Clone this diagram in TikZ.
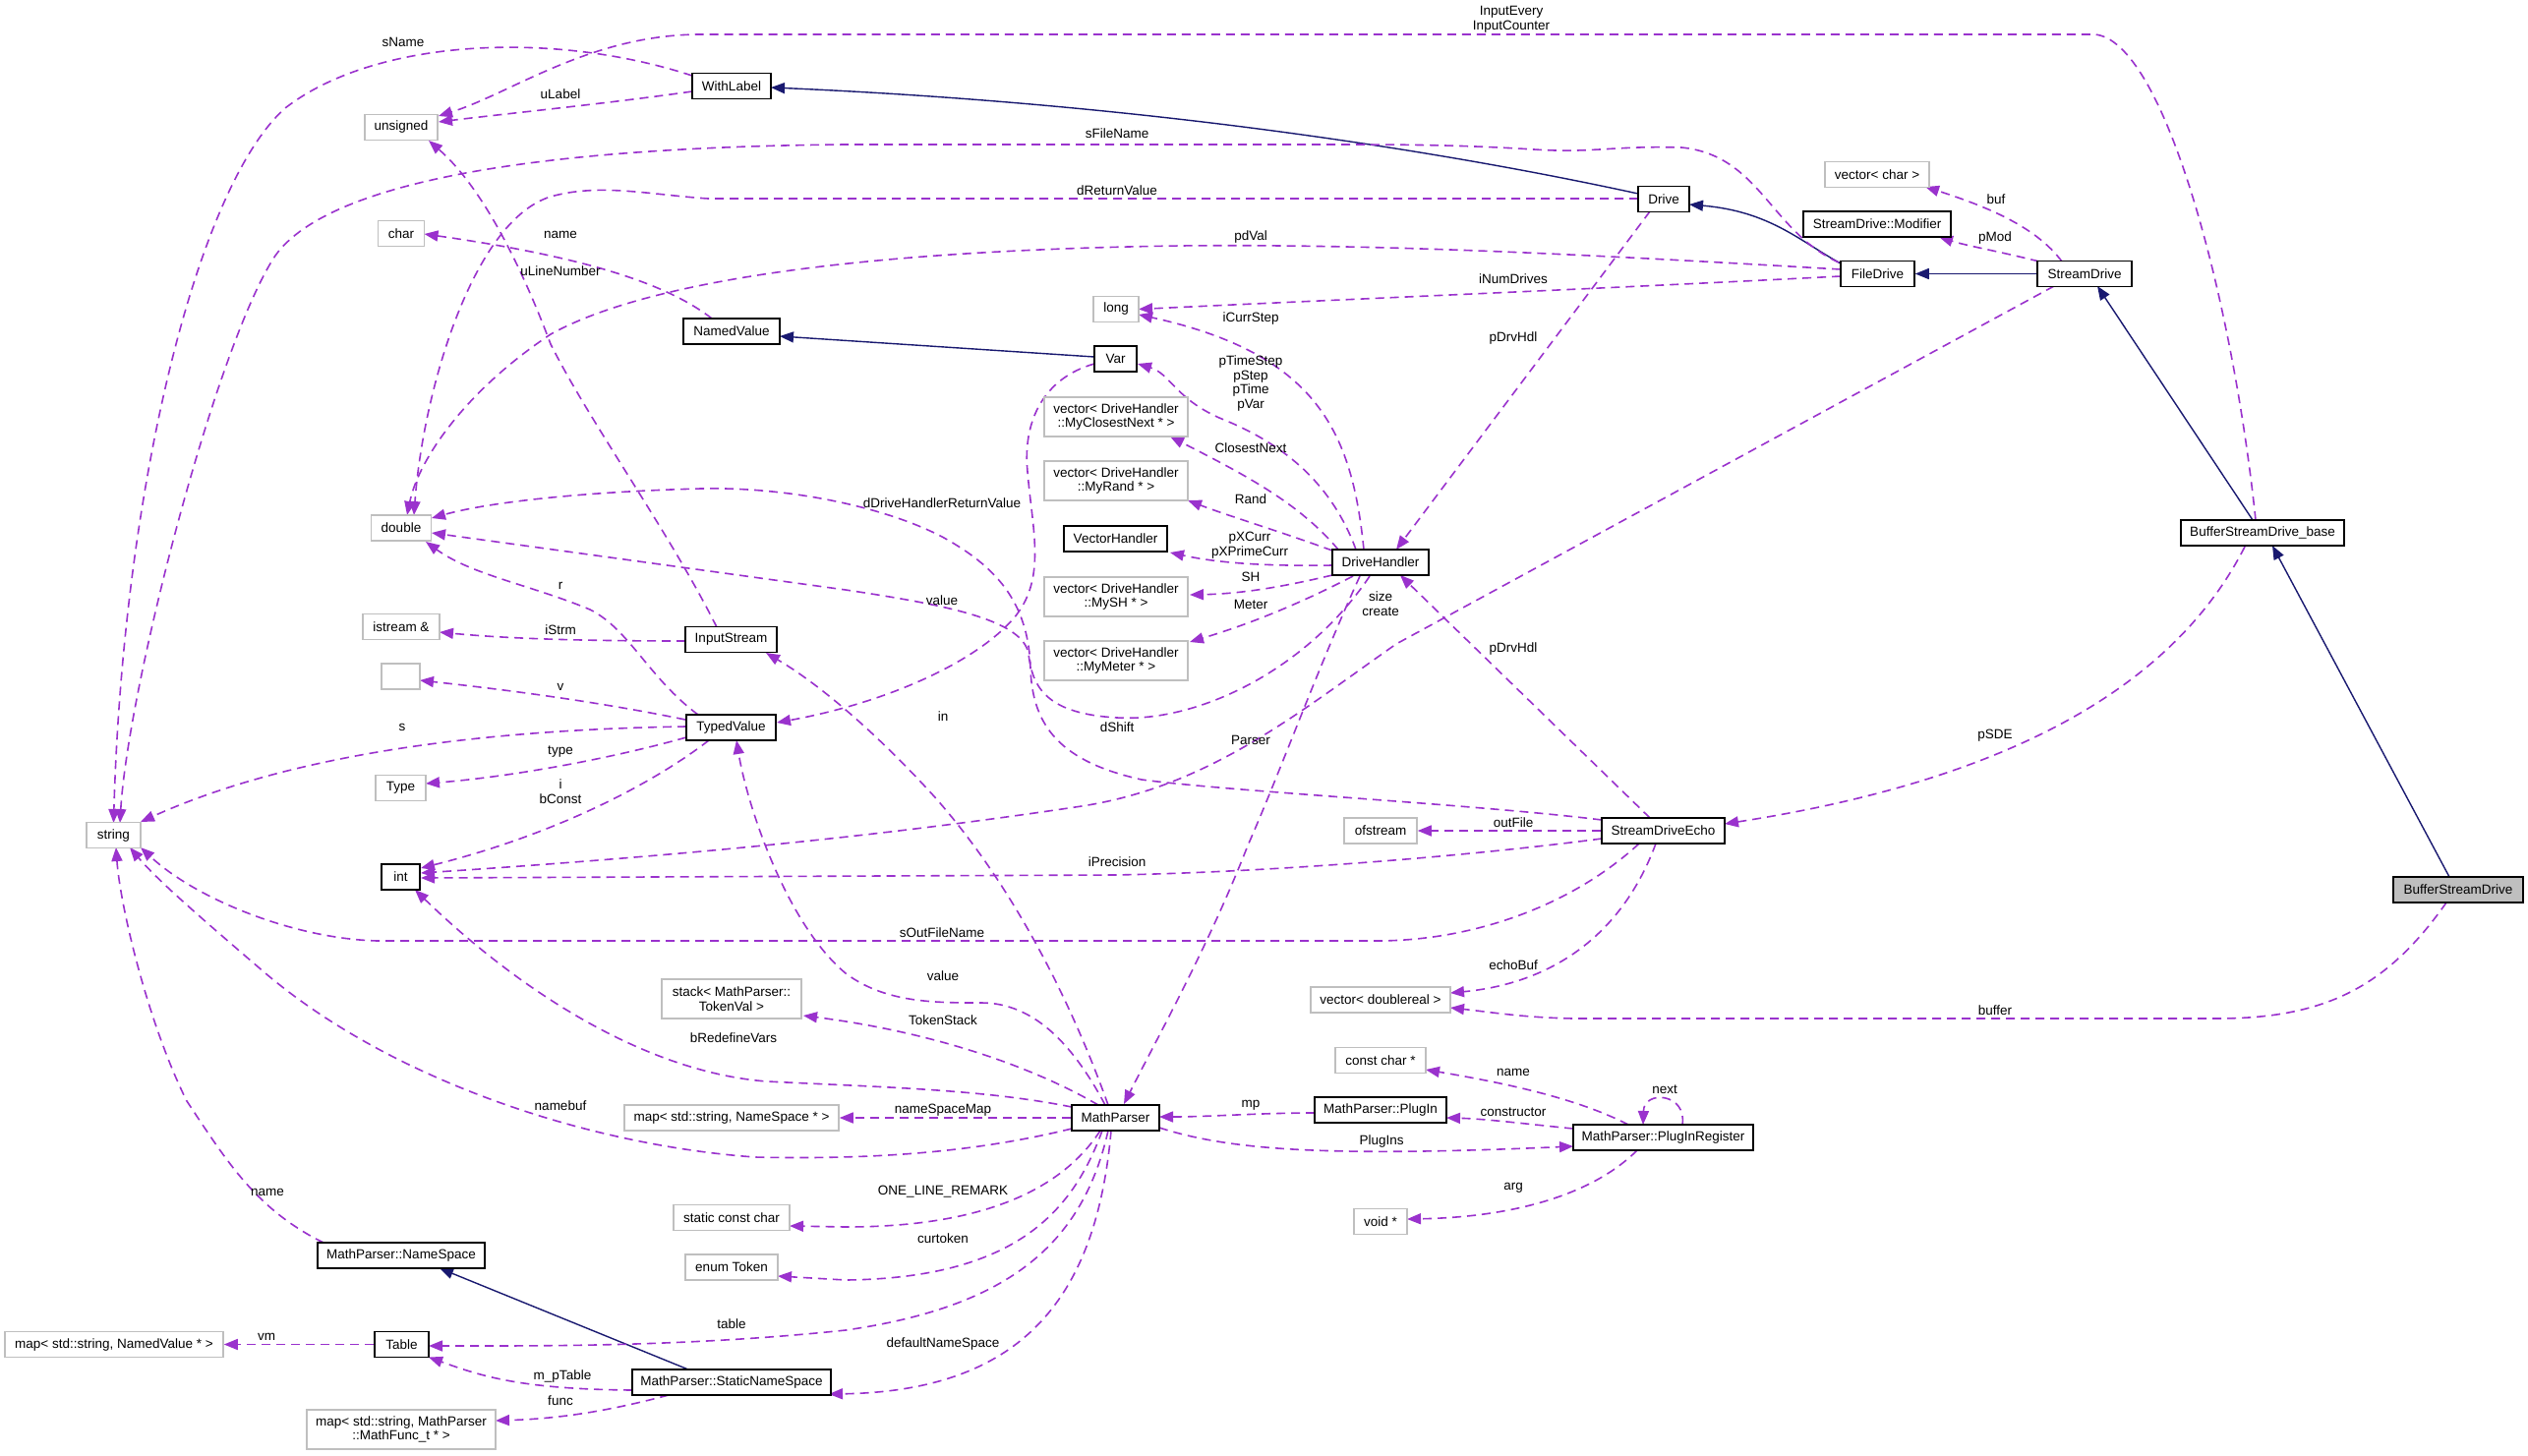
\documentclass[tikz,border=0pt]{standalone}
\usepackage{fontspec}
\setmainfont{Liberation Sans}
\usetikzlibrary{arrows.meta,calc}
\definecolor{depc}{HTML}{9A32CD}
\definecolor{inhc}{HTML}{191970}
\definecolor{gbc}{HTML}{BFBFBF}
\newcommand\lbfont{\fontsize{13.5}{14.8}\selectfont}
\pgfdeclarelayer{bglayer}
\pgfdeclarelayer{edgelayer}
\pgfsetlayers{bglayer,edgelayer,main}
\begin{document}
\begin{tikzpicture}[x=1pt,y=-1pt,
  cbox/.style={draw=black, line width=1.5pt, fill=white, inner sep=0pt, minimum height=26pt, font=\lbfont, align=center, text=black},
  gbox/.style={cbox, draw=gbc},
  dep/.style={draw=depc, line width=1.6pt, dash pattern=on 9pt off 6pt, -{Triangle[length=14pt,width=11pt]}, fill=none},
  inh/.style={draw=inhc, line width=1.4pt, -{Triangle[length=14pt,width=11pt]}},
  lbl/.style={font=\lbfont, inner sep=0pt, align=center, text=black}]
\begin{pgfonlayer}{bglayer}
\fill[white] (0,0) rectangle (2571,1480);
\end{pgfonlayer}
\useasboundingbox (0,0) rectangle (2571,1480);

% ---------- nodes ----------
\node[cbox, minimum width=80pt] (WithLabel) at (744,87.5) {WithLabel};
\node[gbox, minimum width=74pt] (unsigned) at (408,129.5) {unsigned};
\node[gbox, minimum width=47pt] (char) at (408,237.5) {char};
\node[cbox, minimum width=98pt] (NamedValue) at (744,337) {NamedValue};
\node[gbox, minimum width=61pt] (double) at (408,537) {double};
\node[gbox, minimum width=78pt] (istream) at (408,637.5) {istream \&};
\node[cbox, minimum width=93pt] (InputStream) at (743.5,650.5) {InputStream};
\node[gbox, minimum width=39pt] (empty) at (407.5,688) {};
\node[cbox, minimum width=91pt] (TypedValue) at (743.5,740) {TypedValue};
\node[gbox, minimum width=51pt] (Type) at (407.5,801.5) {Type};
\node[gbox, minimum width=55pt] (string) at (115.5,849.5) {string};
\node[cbox, minimum width=39pt] (int) at (407.5,892) {int};
\node[gbox, minimum width=142pt, minimum height=40pt] (stack) at (744,1016) {stack< MathParser::\\TokenVal >};
\node[gbox, minimum width=218pt] (mapNS) at (744,1137) {map< std::string, NameSpace * >};
\node[gbox, minimum width=118pt] (scc) at (744,1238.5) {static const char};
\node[cbox, minimum width=170pt] (NameSpace) at (408,1277) {MathParser::NameSpace};
\node[gbox, minimum width=94pt] (enumToken) at (744,1289) {enum Token};
\node[gbox, minimum width=222pt] (mapNV) at (116,1367.5) {map< std::string, NamedValue * >};
\node[cbox, minimum width=55pt] (Table) at (408.5,1367.5) {Table};
\node[cbox, minimum width=202pt] (StaticNS) at (744,1406) {MathParser::StaticNameSpace};
\node[gbox, minimum width=192pt, minimum height=40pt] (mapMF) at (408,1454) {map< std::string, MathParser\\::MathFunc\_t * >};
\node[gbox, minimum width=46pt] (long) at (1135,314.5) {long};
\node[cbox, minimum width=43pt] (Var) at (1134.5,365) {Var};
\node[gbox, minimum width=146pt, minimum height=40pt] (MyClosestNext) at (1135,424) {vector< DriveHandler\\::MyClosestNext * >};
\node[gbox, minimum width=146pt, minimum height=40pt] (MyRand) at (1135,489) {vector< DriveHandler\\::MyRand * >};
\node[cbox, minimum width=105pt] (VectorHandler) at (1134.5,548) {VectorHandler};
\node[gbox, minimum width=146pt, minimum height=40pt] (MySH) at (1135,607) {vector< DriveHandler\\::MySH * >};
\node[gbox, minimum width=146pt, minimum height=40pt] (MyMeter) at (1135,672) {vector< DriveHandler\\::MyMeter * >};
\node[cbox, minimum width=98pt] (DH) at (1404,572) {DriveHandler};
\node[gbox, minimum width=74pt] (ofstream) at (1404,845) {ofstream};
\node[cbox, minimum width=125pt] (SDE) at (1691.5,845) {StreamDriveEcho};
\node[gbox, minimum width=142pt] (vecdr) at (1404,1017) {vector< doublereal >};
\node[gbox, minimum width=92pt] (constchar) at (1404,1078.5) {const char *};
\node[cbox, minimum width=89pt] (MathParser) at (1134.5,1137) {MathParser};
\node[cbox, minimum width=134pt] (PlugIn) at (1404,1129) {MathParser::PlugIn};
\node[cbox, minimum width=183pt] (PIR) at (1691.5,1157) {MathParser::PlugInRegister};
\node[gbox, minimum width=54pt] (void) at (1404,1242.5) {void *};
\node[cbox, minimum width=52pt] (Drive) at (1692,202.5) {Drive};
\node[gbox, minimum width=106pt] (vecchar) at (1909,177.5) {vector< char >};
\node[cbox, minimum width=150pt] (Modifier) at (1909,228) {StreamDrive::Modifier};
\node[cbox, minimum width=75pt] (FileDrive) at (1909.5,278.5) {FileDrive};
\node[cbox, minimum width=96pt] (StreamDrive) at (2120,278.5) {StreamDrive};
\node[cbox, minimum width=166pt] (BSDbase) at (2301,542) {BufferStreamDrive\_base};
\node[cbox, minimum width=132pt, fill=gbc] (BSD) at (2500,905) {BufferStreamDrive};

% ---------- edges ----------
\begin{pgfonlayer}{edgelayer}
% inheritance
\draw[inh] ($(Drive)+(-26,-5.5)$) .. controls (1450,150) and (1150,105) .. ($(WithLabel)+(40,1.5)$);
\draw[inh] ($(FileDrive)+(-37.5,-10.5)$) .. controls (1830,245) and (1800,215) .. ($(Drive)+(26,5.5)$);
\draw[inh] (StreamDrive.west) -- (FileDrive.east);
\draw[inh] ($(BSDbase)+(-10,-13)$) -- ($(StreamDrive)+(13,12.5)$);
\draw[inh] ($(BSD)+(-9,-13)$) -- ($(BSDbase)+(10,13)$);
\draw[inh] ($(Var)+(-21.5,-2)$) -- ($(NamedValue)+(49,5)$);
\draw[inh] ($(StaticNS)+(-44,-13)$) -- ($(NameSpace)+(39,13)$);

% usage
\draw[dep] ($(WithLabel)+(-40,-10.5)$) .. controls (560,30) and (380,40) .. (290,110) .. controls (200,190) and (125,500) .. ($(string)+(0,-12.5)$);
\draw[dep] ($(WithLabel)+(-40,5.5)$) .. controls (620,105) and (520,115) .. ($(unsigned)+(38,-5.5)$);
\draw[dep] ($(BSDbase)+(-7,-13)$) .. controls (2270,300) and (2200,40) .. (2130,35) -- (713,35) .. controls (600,35) and (520,95) .. ($(unsigned)+(38,-11.5)$);
\draw[dep] ($(FileDrive)+(-39.5,-11.5)$) .. controls (1800,235) and (1790,158) .. (1710,150) .. controls (1640,148) and (1620,156) .. (1560,152) .. controls (1480,147) and (1420,147) .. (1350,147) -- (860,147) .. controls (520,150) and (330,190) .. (280,260) .. controls (220,350) and (130,700) .. ($(string)+(6.5,-12.5)$);
\draw[dep] ($(Drive)+(-26,-0.5)$) -- (720,202) .. controls (660,198) and (610,186) .. (560,200) .. controls (480,225) and (430,400) .. ($(double)+(13,-13)$);
\draw[dep] ($(FileDrive)+(-37.5,-4.5)$) .. controls (1600,258) and (1400,248) .. (1200,250) .. controls (850,255) and (650,290) .. (560,340) .. controls (470,400) and (425,470) .. ($(double)+(6,-13)$);
\draw[dep] ($(FileDrive)+(-37.5,2.5)$) .. controls (1600,295) and (1400,303) .. ($(long)+(23,0)$);
\draw[dep] ($(StreamDrive)+(-23,-12.5)$) .. controls (2070,230) and (2020,210) .. ($(vecchar)+(49,12.5)$);
\draw[dep] ($(StreamDrive)+(-46,-12.5)$) .. controls (2030,255) and (2000,250) .. ($(Modifier)+(63,13)$);
\draw[dep] ($(StreamDrive)+(-31,12.5)$) -- (1420,655) .. controls (1320,725) and (1230,800) .. (1100,820) .. controls (900,850) and (700,870) .. ($(int)+(20.5,-4)$);
\draw[dep] ($(Drive)+(-14,12.5)$) -- ($(DH)+(16,-13)$);
\draw[dep] ($(DH)+(-17,-13)$) .. controls (1375,440) and (1340,360) .. ($(long)+(23,5.5)$);
\draw[dep] ($(DH)+(-25,-13)$) .. controls (1350,480) and (1290,445) .. (1240,425) .. controls (1195,405) and (1190,380) .. ($(Var)+(22.5,5)$);
\draw[dep] ($(DH)+(-43,-13)$) .. controls (1320,510) and (1260,480) .. ($(MyClosestNext)+(55,20)$);
\draw[dep] ($(DH)+(-49,-12)$) .. controls (1300,540) and (1250,525) .. ($(MyRand)+(73,20)$);
\draw[dep] ($(DH)+(-49,3)$) .. controls (1290,576) and (1240,573) .. ($(VectorHandler)+(55.5,14)$);
\draw[dep] ($(DH)+(-49,13)$) .. controls (1300,598) and (1260,604) .. ($(MySH)+(75,-2)$);
\draw[dep] ($(DH)+(-28,14)$) .. controls (1320,615) and (1270,635) .. ($(MyMeter)+(75,-19)$);
\draw[dep] ($(DH)+(-11,14)$) .. controls (1330,680) and (1220,735) .. (1136,730) .. controls (1065,726) and (1050,700) .. (1046,665) .. controls (1040,630) and (960,615) .. (860,600) -- ($(double)+(31,5)$);
\draw[dep] ($(SDE)+(-62.5,-11)$) .. controls (1500,818) and (1250,805) .. (1161,793) .. controls (1080,775) and (1050,740) .. (1048,680) .. controls (1046,610) and (1010,575) .. (960,547) .. controls (900,515) and (800,495) .. (713,497) .. controls (600,500) and (500,510) .. ($(double)+(31,-10)$);
\draw[dep] ($(Var)+(-21.5,5)$) .. controls (1060,385) and (1040,430) .. (1045,480) .. controls (1050,540) and (1065,590) .. (1030,630) .. controls (990,675) and (900,715) .. ($(TypedValue)+(46.5,-5)$);
\draw[dep] (SDE.west) -- (ofstream.east);
\draw[dep] ($(SDE)+(-62.5,8)$) .. controls (1500,870) and (1300,887) .. (1133,890) -- ($(int)+(20.5,1)$);
\draw[dep] ($(SDE)+(-24.5,13)$) .. controls (1600,920) and (1500,957) .. (1400,957) -- (384,957) .. controls (300,955) and (200,915) .. ($(string)+(27.5,12.5)$);
\draw[dep] ($(SDE)+(-7.5,13)$) .. controls (1650,950) and (1580,1000) .. ($(vecdr)+(71,-7)$);
\draw[dep] ($(SDE)+(-13.5,-13)$) -- ($(DH)+(20,13)$);
\draw[dep] ($(BSDbase)+(-18,14)$) .. controls (2200,720) and (2000,800) .. ($(SDE)+(62.5,-7)$);
\draw[dep] ($(BSD)+(-12,13)$) .. controls (2430,1000) and (2370,1036) .. (2255,1036) -- (1600,1036) .. controls (1550,1035) and (1520,1030) .. ($(vecdr)+(71,8)$);
\draw[dep] ($(MathParser)+(-7.5,-13)$) .. controls (1090,1020) and (1030,900) .. (950,810) .. controls (900,755) and (840,700) .. ($(InputStream)+(35.5,13.5)$);
\draw[dep] ($(MathParser)+(-10.5,-13)$) .. controls (1090,1060) and (1050,1020) .. (998,1020) .. controls (950,1020) and (900,1020) .. (860,990) .. controls (800,940) and (760,820) .. ($(TypedValue)+(5.5,13)$);
\draw[dep] ($(MathParser)+(-17.5,-13)$) .. controls (1050,1085) and (950,1050) .. ($(stack)+(73,17)$);
\draw[dep] ($(MathParser)+(-44.5,-11)$) .. controls (1000,1108) and (900,1106) .. (780,1100) .. controls (650,1090) and (520,1000) .. ($(int)+(14.5,13)$);
\draw[dep] (MathParser.west) -- (mapNS.east);
\draw[dep] ($(MathParser)+(-44.5,11)$) .. controls (1000,1170) and (900,1180) .. (768,1177) .. controls (600,1165) and (400,1100) .. (270,990) .. controls (200,930) and (160,895) .. ($(string)+(16.5,12.5)$);
\draw[dep] ($(MathParser)+(-15.5,13)$) .. controls (1080,1210) and (1000,1248) .. (860,1248) -- ($(scc)+(59,8.5)$);
\draw[dep] ($(MathParser)+(-13.5,13)$) .. controls (1090,1235) and (1030,1300) .. (860,1302) -- ($(enumToken)+(47,9)$);
\draw[dep] ($(MathParser)+(-7.5,13)$) .. controls (1100,1270) and (1020,1330) .. (860,1353) .. controls (700,1370) and (550,1369) .. ($(Table)+(27.5,1.5)$);
\draw[dep] ($(MathParser)+(-4.5,13)$) .. controls (1115,1320) and (1040,1415) .. ($(StaticNS)+(99,12)$);
\draw[dep] ($(MathParser)+(44.5,10)$) .. controls (1250,1170) and (1350,1177) .. ($(PIR)+(-91.5,9)$);
\draw[dep] ($(PlugIn)+(-67,3)$) .. controls (1280,1132) and (1230,1136) .. ($(MathParser)+(44.5,-1)$);
\draw[dep] ($(PIR)+(-91.5,-9)$) .. controls (1550,1143) and (1510,1138) .. ($(PlugIn)+(67,8)$);
\draw[dep] ($(PIR)+(-35.5,-13)$) .. controls (1600,1115) and (1520,1100) .. ($(constchar)+(46,9.5)$);
\draw[dep] ($(PIR)+(-26.5,13)$) .. controls (1620,1215) and (1540,1238) .. ($(void)+(27,-2.5)$);
\draw[dep] ($(PIR)+(19.5,-13)$) .. controls (1716,1112) and (1672,1108) .. ($(PIR)+(-20.5,-13)$);
\draw[dep] ($(InputStream)+(-14.5,-12.5)$) .. controls (680,540) and (600,430) .. (560,350) .. controls (530,270) and (490,190) .. ($(unsigned)+(28,13.5)$);
\draw[dep] ($(InputStream)+(-46.5,1.5)$) .. controls (600,652) and (520,650) .. ($(istream)+(39,5.5)$);
\draw[dep] ($(NamedValue)+(-20,-13)$) .. controls (680,290) and (600,262) .. ($(char)+(23.5,0.5)$);
\draw[dep] ($(TypedValue)+(-33.5,-13)$) .. controls (660,690) and (640,640) .. (600,620) .. controls (540,595) and (480,585) .. ($(double)+(25,14)$);
\draw[dep] ($(TypedValue)+(-46.5,-8)$) .. controls (600,712) and (500,700) .. ($(empty)+(19.5,4)$);
\draw[dep] ($(TypedValue)+(-45.5,-1)$) .. controls (500,742) and (300,765) .. ($(string)+(27.5,-13.5)$);
\draw[dep] ($(TypedValue)+(-45.5,10)$) .. controls (620,772) and (520,790) .. ($(Type)+(25.5,-4.5)$);
\draw[dep] ($(TypedValue)+(-22.5,13)$) .. controls (660,800) and (560,850) .. ($(int)+(20.5,-9)$);
\draw[dep] ($(StaticNS)+(-101,8)$) .. controls (530,1413) and (490,1400) .. ($(Table)+(27.5,13)$);
\draw[dep] ($(StaticNS)+(-64,13)$) .. controls (620,1435) and (570,1443) .. ($(mapMF)+(96,-9)$);
\draw[dep] (Table.west) -- (mapNV.east);
\draw[dep] ($(NameSpace)+(-79,-13)$) .. controls (260,1230) and (230,1180) .. (190,1120) .. controls (150,1040) and (122,920) .. ($(string)+(2.5,12.5)$);
\draw[dep] ($(DH)+(-21,14)$) .. controls (1340,680) and (1300,790) .. (1269,860) .. controls (1230,960) and (1180,1050) .. ($(MathParser)+(8.5,-14)$);
\end{pgfonlayer}

% ---------- labels ----------
\node[lbl] (l1) at (410,43) {sName};
\node[lbl] (l2) at (570,96) {uLabel};
\node[lbl] (l3) at (1537,20) {InputEvery\\InputCounter};
\node[lbl] (l4) at (1136,136) {sFileName};
\node[lbl] (l5) at (1136,194) {dReturnValue};
\node[lbl] (l6) at (570,239) {name};
\node[lbl] (l7) at (570,276) {uLineNumber};
\node[lbl] (l8) at (1272,241) {pdVal};
\node[lbl] (l9) at (1539,284) {iNumDrives};
\node[lbl] (l10) at (1272,324) {iCurrStep};
\node[lbl] (l11) at (1539,344) {pDrvHdl};
\node[lbl] (l12) at (1272,390) {pTimeStep\\pStep\\pTime\\pVar};
\node[lbl] (l13) at (1272,456) {ClosestNext};
\node[lbl] (l14) at (2030,203) {buf};
\node[lbl] (l15) at (2029,242) {pMod};
\node[lbl] (l16) at (958,512) {dDriveHandlerReturnValue};
\node[lbl] (l17) at (1272,508) {Rand};
\node[lbl] (l18) at (1271,555) {pXCurr\\pXPrimeCurr};
\node[lbl] (l19) at (1272,587) {SH};
\node[lbl] (l20) at (1272,615) {Meter};
\node[lbl] (l21) at (1404,614) {size\\create};
\node[lbl] (l22) at (958,611) {value};
\node[lbl] (l23) at (570,596) {r};
\node[lbl] (l24) at (570,641) {iStrm};
\node[lbl] (l25) at (1539,660) {pDrvHdl};
\node[lbl] (l26) at (570,699) {v};
\node[lbl] (l27) at (959,729) {in};
\node[lbl] (l28) at (409,740) {s};
\node[lbl] (l29) at (1136,740) {dShift};
\node[lbl] (l30) at (1272,753) {Parser};
\node[lbl] (l31) at (570,765) {type};
\node[lbl] (l32) at (2029,748) {pSDE};
\node[lbl] (l33) at (570,805) {i\\bConst};
\node[lbl] (l34) at (1539,837) {outFile};
\node[lbl] (l35) at (1136,877) {iPrecision};
\node[lbl] (l36) at (958,949) {sOutFileName};
\node[lbl] (l37) at (1539,982) {echoBuf};
\node[lbl] (l38) at (959,993) {value};
\node[lbl] (l39) at (2029,1028) {buffer};
\node[lbl] (l40) at (959,1038) {TokenStack};
\node[lbl] (l41) at (746,1056) {bRedefineVars};
\node[lbl] (l42) at (1539,1091) {name};
\node[lbl] (l43) at (1693,1108) {next};
\node[lbl] (l44) at (570,1125) {namebuf};
\node[lbl] (l45) at (1272,1124) {mp};
\node[lbl] (l46) at (959,1129) {nameSpaceMap};
\node[lbl] (l47) at (1539,1131) {constructor};
\node[lbl] (l48) at (1405,1161) {PlugIns};
\node[lbl] (l49) at (1539,1208) {arg};
\node[lbl] (l50) at (959,1212) {ONE\_LINE\_REMARK};
\node[lbl] (l51) at (272,1213) {name};
\node[lbl] (l52) at (959,1260) {curtoken};
\node[lbl] (l53) at (744,1347) {table};
\node[lbl] (l54) at (271,1360) {vm};
\node[lbl] (l55) at (959,1367) {defaultNameSpace};
\node[lbl] (l56) at (572,1400) {m\_pTable};
\node[lbl] (l57) at (570,1425) {func};
\end{tikzpicture}
\end{document}
